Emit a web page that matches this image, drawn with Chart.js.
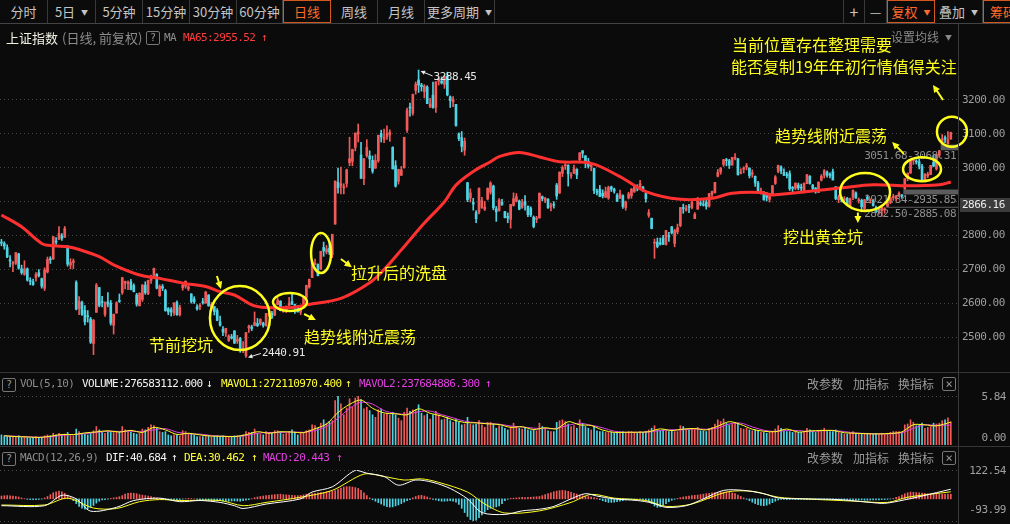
<!DOCTYPE html>
<html>
<head>
<meta charset="utf-8">
<title>上证指数 日线</title>
<script src="https://cdn.jsdelivr.net/npm/chart.js@4.4.1/dist/chart.umd.min.js"></script>
<style>
  html, body { margin: 0; padding: 0; background: #0b0b0b; }
  body { position: relative; width: 1010px; height: 524px; overflow: hidden;
         font-family: "Noto Sans CJK SC", "Noto Sans", sans-serif; color: #c9c9c9; }
  canvas { position: absolute; left: 0; }
  .a { position: absolute; white-space: nowrap; line-height: 14px; }
  .btn { position: absolute; top: 0; height: 23px; line-height: 23px; box-sizing: border-box;
         border-right: 1px solid #3a3a3a; text-align: center; font-size: 13px; color: #c4c4c4; }
  .btn.on { border: 1px solid #d2581f; color: #ff6a2a; line-height: 21px; }
  .btn.lb { border-left: 1px solid #3a3a3a; }
  .tri { font-size: 7px; margin-left: 6px; vertical-align: 2px; }
  .mono { font-family: "DejaVu Sans Mono", monospace; font-size: 11px; letter-spacing: -0.6px; }
  .q { position: absolute; width: 12px; height: 12px; border: 1px solid #777; border-radius: 2px;
       font: 10px/12px "DejaVu Sans Mono", monospace; color: #9a9a9a; text-align: center; }
  .h { position: absolute; left: 0; width: 1010px; height: 1px; background: #363636; }
  .dots { position: absolute; left: 0; width: 958px; height: 1px;
          background: repeating-linear-gradient(to right, #4c4c4c 0 1px, transparent 1px 4px); }
  .lab { position: absolute; right: 4px; line-height: 12px; font: 11px "DejaVu Sans Mono", monospace;
         letter-spacing: -0.5px; color: #a0a0a0; }
  .tool { position: absolute; font-size: 12px; line-height: 14px; color: #9a9a9a; }
</style>
</head>
<body>
<canvas id="price" width="1010" height="347" style="top:25px"></canvas>
<canvas id="vol" width="1010" height="49" style="top:396px"></canvas>
<canvas id="macd" width="1010" height="51" style="top:470px"></canvas>

<!-- toolbar -->
<div class="btn" style="left:0;width:48px">分时</div>
<div class="btn" style="left:48px;width:48px">5日<span class="tri">▼</span></div>
<div class="btn" style="left:96px;width:47px">5分钟</div>
<div class="btn" style="left:143px;width:47px">15分钟</div>
<div class="btn" style="left:190px;width:47px">30分钟</div>
<div class="btn" style="left:237px;width:46px">60分钟</div>
<div class="btn on" style="left:283px;width:48px">日线</div>
<div class="btn" style="left:331px;width:47px">周线</div>
<div class="btn" style="left:378px;width:47px">月线</div>
<div class="btn" style="left:425px;width:70px">更多周期<span class="tri">▼</span></div>
<div class="btn lb" style="left:843px;width:22px;font-size:16px">+</div>
<div class="btn" style="left:865px;width:22px">—</div>
<div class="btn on" style="left:887px;width:48px">复权<span class="tri">▼</span></div>
<div class="btn" style="left:935px;width:48px">叠加<span class="tri">▼</span></div>
<div class="btn on" style="left:983px;width:40px">筹码</div>
<div class="h" style="top:23px;background:#444"></div>

<!-- title row -->
<div class="a" style="left:6px;top:31px;font-size:13px;color:#f2f2e2">上证指数</div>
<div class="a" style="left:62px;top:31px;font-size:13px;color:#8c8c8c">(日线, 前复权)</div>
<div class="q" style="left:146px;top:31px">?</div>
<div class="a mono" style="left:164px;top:31px;color:#8c8c8c">MA</div>
<div class="a mono" style="left:183px;top:31px;color:#ff3c3c">MA65:2955.52</div>
<div class="a mono" style="left:261px;top:31px;color:#ff3c3c">↑</div>
<div class="a" style="left:891px;top:30px;font-size:12px;color:#8a8a8a">设置均线<span class="tri">▼</span></div>

<!-- panel frames -->
<div style="position:absolute;left:958px;top:24px;width:1px;height:500px;background:#3a3a3a"></div>
<div class="h" style="top:372px"></div>
<div class="h" style="top:446px"></div>
<div class="dots" style="top:396px"></div>
<div class="dots" style="top:470px"></div>
<div class="dots" style="top:521px"></div>

<!-- volume header -->
<div class="q" style="left:2px;top:378px">?</div>
<div class="a mono" style="left:20px;top:377px;color:#8c8c8c">VOL(5,10)</div>
<div class="a mono" style="left:82px;top:377px;color:#f2f2f2">VOLUME:276583112.000</div>
<div class="a mono" style="left:206px;top:377px;color:#f2f2f2">↓</div>
<div class="a mono" style="left:221px;top:377px;color:#ffff3a">MAVOL1:272110970.400</div>
<div class="a mono" style="left:345px;top:377px;color:#ffff3a">↑</div>
<div class="a mono" style="left:359px;top:377px;color:#e040e0">MAVOL2:237684886.300</div>
<div class="a mono" style="left:485px;top:377px;color:#e040e0">↑</div>
<div class="tool" style="left:807px;top:377px">改参数</div>
<div class="tool" style="left:853px;top:377px">加指标</div>
<div class="tool" style="left:898px;top:377px">换指标</div>
<div class="q" style="left:942px;top:377px;font-size:12px">×</div>
<div class="lab" style="top:390px">5.84</div>
<div class="lab" style="top:431px">0.00</div>

<!-- macd header -->
<div class="q" style="left:2px;top:452px">?</div>
<div class="a mono" style="left:20px;top:451px;color:#8c8c8c">MACD(12,26,9)</div>
<div class="a mono" style="left:106px;top:451px;color:#f2f2f2">DIF:40.684</div>
<div class="a mono" style="left:171px;top:451px;color:#f2f2f2">↑</div>
<div class="a mono" style="left:184px;top:451px;color:#ffff3a">DEA:30.462</div>
<div class="a mono" style="left:251px;top:451px;color:#ffff3a">↑</div>
<div class="a mono" style="left:263px;top:451px;color:#e040e0">MACD:20.443</div>
<div class="a mono" style="left:336px;top:451px;color:#e040e0">↑</div>
<div class="tool" style="left:807px;top:451px">改参数</div>
<div class="tool" style="left:853px;top:451px">加指标</div>
<div class="tool" style="left:898px;top:451px">换指标</div>
<div class="q" style="left:942px;top:451px;font-size:12px">×</div>
<div class="lab" style="top:464px">122.54</div>
<div class="lab" style="top:503px">-93.99</div>

<script>
// trading sessions shown on the chart, month by month
const tradeMonths = [
  ['2018-08', [28, 29, 30, 31]],
  ['2018-09', [3, 4, 5, 6, 7, 10, 11, 12, 13, 14, 17, 18, 19, 20, 21, 25, 26, 27, 28]],
  ['2018-10', [8, 9, 10, 11, 12, 15, 16, 17, 18, 19, 22, 23, 24, 25, 26, 29, 30, 31]],
  ['2018-11', [1, 2, 5, 6, 7, 8, 9, 12, 13, 14, 15, 16, 19, 20, 21, 22, 23, 26, 27, 28, 29, 30]],
  ['2018-12', [3, 4, 5, 6, 7, 10, 11, 12, 13, 14, 17, 18, 19, 20, 21, 24, 25, 26, 27, 28]],
  ['2019-01', [2, 3, 4, 7, 8, 9, 10, 11, 14, 15, 16, 17, 18, 21, 22, 23, 24, 25, 28, 29, 30, 31]],
  ['2019-02', [1, 11, 12, 13, 14, 15, 18, 19, 20, 21, 22, 25, 26, 27, 28]],
  ['2019-03', [1, 4, 5, 6, 7, 8, 11, 12, 13, 14, 15, 18, 19, 20, 21, 22, 25, 26, 27, 28, 29]],
  ['2019-04', [1, 2, 3, 4, 8, 9, 10, 11, 12, 15, 16, 17, 18, 19, 22, 23, 24, 25, 26, 29, 30]],
  ['2019-05', [6, 7, 8, 9, 10, 13, 14, 15, 16, 17, 20, 21, 22, 23, 24, 27, 28, 29, 30, 31]],
  ['2019-06', [3, 4, 5, 6, 10, 11, 12, 13, 14, 17, 18, 19, 20, 21, 24, 25, 26, 27, 28]],
  ['2019-07', [1, 2, 3, 4, 5, 8, 9, 10, 11, 12, 15, 16, 17, 18, 19, 22, 23, 24, 25, 26, 29, 30, 31]],
  ['2019-08', [1, 2, 5, 6, 7, 8, 9, 12, 13, 14, 15, 16, 19, 20, 21, 22, 23, 26, 27, 28, 29, 30]],
  ['2019-09', [2, 3, 4, 5, 6, 9, 10, 11, 12, 16, 17, 18, 19, 20, 23, 24, 25, 26, 27, 30]],
  ['2019-10', [8, 9, 10, 11, 14, 15, 16, 17, 18, 21, 22, 23, 24, 25, 28, 29, 30, 31]],
  ['2019-11', [1, 4, 5, 6, 7, 8, 11, 12, 13, 14, 15, 18, 19, 20, 21, 22, 25, 26, 27, 28, 29]],
  ['2019-12', [2, 3, 4, 5, 6, 9, 10, 11, 12, 13, 16, 17, 18, 19, 20, 23, 24, 25, 26, 27, 30, 31]],
  ['2020-01', [2, 3, 6, 7]],
];
// empty slots left at the right edge of the price panel
const blankSlots = 2;

// [open, high, low, close]
const candles = [
  [2780,2789,2770,2778],[2777,2782,2760,2769],[2765,2773,2735,2737],[2729,2741,2708,2725],
  [2716,2724,2694,2720],[2719,2750,2715,2750],[2746,2748,2701,2704],[2702,2713,2686,2691],[2686,2726,2683,2702],[2702,2705,2666,2669],[2668,2676,2655,2665],[2664,2672,2653,2656],[2676,2691,2666,2686],[2691,2700,2678,2682],[2673,2675,2645,2651],[2645,2705,2638,2699],[2693,2737,2690,2730],[2730,2738,2718,2729],[2731,2797,2730,2797],[2783,2794,2774,2781],[2789,2827,2788,2806],[2799,2806,2786,2792],[2795,2827,2795,2821],
  [2768,2771,2710,2716],[2713,2732,2702,2721],[2721,2731,2703,2725],[2662,2667,2581,2583],[2585,2620,2567,2606],[2603,2607,2565,2568],[2580,2594,2537,2546],[2562,2579,2545,2561],[2554,2559,2482,2486],[2482,2553,2449,2550],[2574,2659,2574,2654],[2647,2647,2590,2594],[2605,2621,2590,2603],[2568,2605,2562,2603],[2605,2632,2590,2598],[2601,2609,2536,2542],[2536,2569,2510,2568],[2572,2605,2571,2602],
  [2609,2628,2603,2606],[2632,2677,2627,2676],[2660,2666,2643,2665],[2659,2667,2641,2659],[2664,2671,2640,2641],[2653,2658,2634,2635],[2625,2630,2592,2598],[2593,2632,2593,2630],[2612,2656,2606,2654],[2654,2664,2627,2632],[2629,2669,2626,2668],[2668,2684,2659,2679],[2683,2704,2677,2703],[2686,2688,2643,2645],[2623,2655,2621,2651],[2650,2656,2638,2645],[2638,2642,2577,2579],[2585,2588,2567,2575],[2582,2588,2563,2575],[2572,2602,2565,2602],[2603,2608,2565,2567],[2567,2595,2563,2588],
  [2646,2659,2639,2654],[2651,2666,2645,2666],[2643,2654,2638,2649],[2628,2629,2601,2605],[2613,2620,2600,2605],[2590,2597,2580,2584],[2590,2600,2582,2594],[2604,2615,2598,2602],[2601,2635,2601,2634],[2625,2626,2592,2593],[2589,2603,2579,2597],[2591,2592,2566,2576],[2579,2585,2549,2550],[2546,2563,2533,2536],[2524,2532,2505,2516],[2513,2527,2503,2527],[2491,2508,2488,2504],[2502,2509,2495,2498],[2519,2520,2482,2483],[2489,2506,2482,2494],
  [2497,2500,2456,2465],[2462,2488,2455,2464],[2446,2515,2440.91,2514],[2528,2536,2515,2533],[2531,2536,2520,2526],[2535,2575,2534,2544],[2541,2556,2532,2535],[2540,2555,2536,2553],[2542,2545,2530,2535],[2535,2571,2533,2570],[2568,2576,2563,2570],[2572,2577,2555,2559],[2566,2599,2564,2596],[2597,2618,2596,2610],[2607,2608,2578,2579],[2576,2591,2574,2581],[2580,2593,2573,2591],[2595,2618,2592,2601],[2606,2631,2597,2597],[2595,2598,2571,2594],[2590,2594,2575,2575],[2574,2590,2567,2585],
  [2597,2619,2592,2618],[2617,2654,2610,2653],[2649,2672,2645,2671],[2676,2721,2676,2721],[2715,2731,2714,2719],[2715,2717,2681,2682],[2701,2754,2701,2754],[2765,2781,2739,2755],[2752,2771,2746,2761],[2763,2781,2744,2751],[2744,2804,2735,2804],[2834,2961,2834,2961],[2957,2999,2925,2941],[2946,3002,2923,2953],[2941,2953,2923,2941],
  [2954,2996,2943,2994],[3015,3090,3006,3027],[3019,3055,3006,3054],[3060,3103,3050,3102],[3099,3129,3076,3106],[3038,3075,2969,2969],[2968,3028,2950,3026],[3036,3083,3031,3060],[3035,3050,3000,3026],[3022,3035,2984,2990],[2999,3039,2998,3021],[3021,3096,3016,3096],[3101,3111,3076,3091],[3084,3114,3074,3090],[3092,3124,3084,3101],[3097,3112,3078,3104],[3060,3062,2996,2997],[3006,3021,2943,2946],[2960,2996,2952,2995],[2978,3004,2977,2994],[3000,3090,2999,3090],
  [3111,3176,3104,3170],[3177,3191,3152,3176],[3161,3217,3155,3216],[3228,3253,3217,3246],[3259,3288.45,3222,3244],[3244,3249,3226,3239],[3225,3245,3206,3241],[3238,3242,3189,3189],[3181,3205,3177,3188],[3214,3253,3176,3177],[3178,3254,3163,3253],[3255,3270,3244,3263],[3256,3268,3247,3250],[3246,3272,3234,3270],[3270,3282,3212,3215],[3209,3212,3178,3198],[3194,3210,3180,3201],[3187,3187,3123,3124],[3100,3103,3080,3086],[3089,3107,3047,3063],[3052,3088,3037,3078],
  [2956,2957,2900,2906],[2911,2938,2899,2926],[2898,2910,2875,2893],[2868,2874,2838,2850],[2869,2941,2864,2939],[2883,2913,2880,2903],[2878,2901,2874,2884],[2908,2941,2905,2939],[2928,2959,2922,2955],[2946,2949,2876,2882],[2879,2886,2842,2870],[2874,2909,2872,2905],[2898,2907,2889,2892],[2871,2872,2852,2853],[2857,2867,2838,2852],[2848,2892,2822,2892],[2889,2926,2887,2909],[2901,2924,2899,2915],[2902,2905,2876,2878],[2883,2907,2880,2898],
  [2901,2918,2875,2890],[2887,2887,2856,2862],[2880,2885,2856,2861],[2854,2858,2823,2827],[2848,2857,2838,2852],[2852,2926,2852,2925],[2915,2917,2902,2909],[2904,2913,2897,2910],[2907,2909,2880,2882],[2885,2896,2873,2887],[2891,2900,2881,2890],[2949,2954,2907,2917],[2926,2988,2924,2987],[2984,3006,2974,3001],[3006,3012,2995,3008],[3007,3009,2946,2982],[2976,2986,2969,2976],[2984,3008,2983,2997],[2996,2997,2968,2979],
  [3024,3045,3015,3044],[3050,3051,3030,3043],[3035,3036,3000,3015],[3019,3028,2999,3005],[3003,3012,2991,3011],[2998,2999,2924,2933],[2931,2937,2920,2928],[2937,2948,2915,2915],[2925,2935,2911,2917],[2913,2943,2913,2930],[2911,2946,2907,2942],[2944,2946,2930,2937],[2937,2940,2925,2931],[2919,2924,2901,2901],[2910,2934,2909,2924],[2918,2920,2880,2886],[2883,2902,2875,2899],[2911,2928,2908,2923],[2918,2939,2910,2937],[2930,2949,2927,2944],[2944,2950,2932,2941],[2943,2963,2939,2953],[2943,2945,2931,2932],
  [2924,2925,2899,2909],[2860,2877,2854,2868],[2851,2852,2820,2821],[2778,2790,2733,2778],[2781,2793,2764,2768],[2779,2793,2772,2775],[2793,2801,2774,2774],[2774,2815,2772,2815],[2798,2810,2783,2797],[2826,2827,2805,2808],[2777,2819,2767,2815],[2811,2834,2805,2823],[2830,2883,2826,2883],[2883,2893,2866,2880],[2875,2889,2872,2880],[2884,2892,2868,2883],[2883,2904,2879,2898],[2850,2868,2850,2863],[2878,2913,2878,2902],[2897,2903,2888,2893],[2891,2907,2887,2890],[2899,2905,2878,2886],
  [2887,2925,2884,2924],[2922,2931,2914,2930],[2927,2957,2925,2957],[2975,2995,2973,2986],[2988,3001,2981,2999],[3010,3025,3004,3024],[3022,3028,3006,3021],[3021,3025,2998,3008],[3008,3031,3008,3031],[3028,3042,3023,3030],[3027,3027,2979,2979],[2984,2997,2982,2985],[2996,3003,2985,2999],[3002,3013,2994,3006],[2999,3000,2970,2977],[2981,2994,2972,2985],[2975,2976,2945,2955],[2955,2960,2928,2929],[2929,2940,2922,2932],[2928,2930,2905,2905],
  [2919,2927,2902,2913],[2907,2925,2899,2924],[2924,2948,2920,2947],[2954,2977,2951,2973],[2989,3008,2985,3007],[3003,3006,2983,2991],[2987,2997,2977,2978],[2980,2987,2970,2977],[2983,2991,2933,2938],[2940,2945,2927,2939],[2940,2955,2935,2955],[2949,2955,2935,2941],[2942,2952,2931,2940],[2931,2956,2926,2954],[2953,2980,2953,2980],[2975,2977,2952,2954],[2949,2951,2932,2939],[2940,2942,2925,2929],
  [2927,2958,2927,2958],[2964,2980,2961,2975],[2978,2995,2970,2991],[2987,2991,2972,2978],[2980,2985,2970,2978],[2989,2996,2964,2964],[2944,2945,2906,2909],[2906,2920,2897,2914],[2913,2914,2899,2905],[2904,2915,2901,2909],[2910,2913,2891,2891],[2887,2911,2884,2909],[2913,2935,2906,2933],[2926,2929,2910,2911],[2903,2911,2896,2903],[2904,2908,2870,2885],[2880,2907,2873,2906],[2913,2920,2903,2907],[2903,2909,2896,2903],[2903,2906,2887,2889],[2883,2887,2867,2871],
  [2870,2879,2863,2875],[2874,2884,2857,2884],[2876,2882.5,2866,2878],[2886,2900,2885.08,2899],[2899,2912,2894,2912],[2913,2922,2904,2914],[2909,2917,2902,2917],[2918,2929,2915,2925],[2920,2921.34,2910,2916],[2938,2968,2935.85,2968],[2968,2985,2962,2984],[2985,3024,2983,3022],[3021,3028,3010,3022],[3018,3024,3011,3017],[3018,3026,2997,3005],[3004,3010,2962,2963],[2964,2982,2958,2982],[2976,2987,2971,2981],[2980,3007,2980,3007],[3016,3037,3003,3005],[2997,3040,2993,3040],[3037,3051.68,3030,3050],
  [3069,3098,3068.31,3085],[3089,3094,3074,3084],[3071,3107,3069,3083],[3085,3105,3084,3104],
];

// daily volume, 1e8 lots
const volumes = [
  1.2,1.1,1.0,1.0,0.9,1.0,1.1,0.9,0.9,0.9,0.8,0.9,1.0,0.9,0.9,1.1,1.2,1.1,1.4,1.2,1.4,1.2,1.3,1.5,1.1,1.1,
  1.9,1.6,1.3,1.3,1.2,1.4,1.7,2.2,1.8,1.5,1.4,1.6,1.5,1.5,1.5,
  1.6,2.2,1.8,1.6,1.5,1.4,1.3,1.4,1.9,1.8,2.1,2.4,2.3,2.0,1.6,1.5,1.6,1.2,1.1,1.2,1.2,1.1,
  1.7,1.6,1.4,1.4,1.2,1.0,1.0,1.0,1.2,1.1,1.0,1.0,1.1,1.0,1.1,0.9,1.0,0.9,1.1,1.1,
  1.1,1.2,1.6,1.5,1.5,1.9,1.4,1.3,1.2,1.6,1.5,1.4,1.7,1.7,1.6,1.3,1.4,1.6,1.8,1.5,1.2,1.4,
  1.5,1.7,1.8,2.4,2.3,2.0,2.6,3.0,2.6,2.8,2.9,5.3,5.8,4.9,3.6,
  4.4,5.5,4.5,5.6,5.8,5.4,4.3,4.5,4.1,3.6,3.3,4.2,4.3,3.7,3.8,3.6,3.9,3.6,3.2,2.9,3.9,
  4.4,4.0,4.2,4.2,4.8,3.8,3.5,3.7,3.1,3.6,4.0,3.6,3.0,3.1,3.3,2.9,2.7,3.1,2.7,2.4,2.5,
  3.3,2.5,2.4,2.5,2.9,2.4,2.1,2.7,2.7,2.5,2.0,2.3,2.2,2.0,1.8,2.2,2.6,2.2,2.0,1.9,
  2.0,1.8,1.7,1.8,1.7,2.6,2.2,2.0,1.7,1.6,1.6,2.7,2.9,3.0,2.8,2.5,2.2,2.3,2.0,
  3.0,2.6,2.2,2.0,1.8,2.2,1.7,1.6,1.6,1.5,1.5,1.5,1.4,1.5,1.6,1.6,1.5,1.6,1.6,1.5,1.4,1.6,1.5,
  1.6,1.8,2.0,2.3,1.8,1.7,1.8,1.7,1.6,1.8,1.6,1.6,2.3,2.2,1.9,1.8,2.0,1.9,2.1,1.7,1.7,1.6,
  2.0,2.1,2.5,3.0,2.8,3.1,2.6,2.4,2.5,2.7,2.6,2.0,1.9,2.0,1.8,1.7,1.8,1.7,1.5,1.5,
  1.4,1.5,1.6,1.9,2.3,2.0,1.7,1.6,1.6,1.5,1.6,1.5,1.5,1.5,2.0,1.8,1.6,1.5,
  1.7,1.8,2.0,1.7,1.6,1.6,1.8,1.5,1.4,1.3,1.3,1.4,1.6,1.4,1.3,1.4,1.3,1.4,1.3,1.3,1.4,
  1.3,1.4,1.3,1.4,1.5,1.6,1.6,1.6,1.5,2.4,2.5,3.0,2.7,2.3,2.4,2.6,2.0,2.1,2.2,2.6,2.5,2.6,
  2.9,3.0,3.25,2.77,
];

// volume averages, read every 4th session from the second one (last value on the last session)
const mavol1 = [1.1,1.0,0.96,0.9,1.04,1.26,1.24,1.44,1.56,1.7,1.54,1.74,1.5,2.1,1.8,1.26,1.4,1.2,1.06,1.04,1.0,1.22,1.58,1.4,1.58,1.54,1.48,1.94,2.5,3.88,4.84,5.36,4.38,3.82,3.72,3.6,4.32,3.78,3.46,3.0,2.68,2.64,2.52,2.44,2.1,2.18,1.84,2.06,1.92,2.78,2.4,2.32,1.78,1.5,1.52,1.52,1.58,1.92,1.72,1.9,1.96,1.8,2.24,2.78,2.44,1.88,1.64,1.58,1.9,1.54,1.68,1.72,1.74,1.46,1.4,1.34,1.32,1.38,1.56,2.42,2.4,2.28,2.72];
const mavol2 = [1.1,1.05,0.98,0.93,0.97,1.15,1.25,1.34,1.5,1.63,1.62,1.64,1.62,1.8,1.95,1.53,1.33,1.3,1.13,1.05,1.02,1.11,1.4,1.49,1.49,1.56,1.51,1.71,2.22,3.19,4.36,5.1,4.87,4.1,3.77,3.66,3.96,4.05,3.62,3.23,2.84,2.66,2.58,2.48,2.27,2.14,2.01,1.95,1.99,2.35,2.59,2.36,2.05,1.64,1.51,1.52,1.55,1.72,1.82,1.81,1.93,1.88,2.02,2.51,2.61,2.16,1.76,1.61,1.74,1.72,1.61,1.7,1.73,1.6,1.43,1.37,1.33,1.35,1.47,1.99,2.41,2.34,2.38];

// [session index, value]
const ma65Points = [[0,2861],[7,2826],[14,2777],[18,2770],[23,2767],[27,2759],[34,2738],[39,2714],[48,2684],[55,2674],[63,2660],[71,2650],[76,2635],[81,2625],[87,2596],[92,2588],[101,2588],[106,2596],[118,2615],[128,2661],[133,2700],[139,2758],[147,2837],[154,2900],[158,2949],[164,2989],[170,3018],[173,3033],[180,3045],[187,3032],[194,3018],[205,3013],[215,2974],[224,2930],[236,2907],[247,2910],[254,2925],[264,2927],[268,2920],[292,2941],[303,2950],[315,2947],[326,2950],[330,2958]];
const difPoints = [[0,-29],[15,-29],[21,15],[26,0],[31,-52],[40,-36],[46,-7],[55,3],[62,-12],[69,-7],[76,-15],[81,-29],[84,-41],[92,-22],[104,0],[108,29],[115,51],[123,121],[127,109],[133,95],[138,58],[144,80],[150,70],[156,44],[162,0],[167,-58],[175,-66],[181,-51],[187,-44],[192,-32],[198,0],[203,22],[207,12],[213,0],[221,-7],[226,-17],[231,-36],[238,-29],[244,0],[251,36],[258,36],[265,22],[270,4],[279,0],[291,-3],[302,-15],[307,-19],[314,-4],[320,12],[330,41]];
const deaPoints = [[0,-26],[15,-26],[23,3],[32,-39],[40,-41],[48,-12],[55,-3],[62,-7],[76,-7],[84,-29],[92,-15],[104,7],[115,36],[126,105],[133,95],[140,80],[146,85],[152,70],[162,29],[168,-22],[175,-60],[187,-51],[198,-15],[205,19],[213,3],[224,-7],[231,-32],[240,-22],[252,29],[261,32],[270,7],[279,0],[297,-10],[308,-15],[315,7],[330,30]];

// MACD histogram per session
const macdBars = [
  12,13,14,13,12,10,8, 4,1, -2,-3,-3,-3,-2,-1, 4,10,18,26,30,33,30,24,16,6,
  -8,-20,-32,-40,-44,-42,-36,-28,-18,-10, -4,-3,-1,2,4,6,9,
  14,20,24,25,24,22,18,16,14,12,10,7,4, 2,-1,-3,-3,-2,-3,-4,-3,-1,1,2,1,0,-1,-3,
  -4,-5,-6,-7,-8,-8,-8,-9,-10,-10,-9,-9,-9,-10,-8,-6,-3,
  1,5,8,10,12,14,15,16,18,19,20,18,17,16,15,14,14,
  15,17,20,21,22,24,26,27,28,30,31,33,35, 40,46,50,52,52,50,48,44,36,26,14,4,
  -4,-10,-16,-22,-28,-33,-35,-34,-30,-26,-20,-14,-8,-3, 4,10,14,15,12,8,3,
  -2,-5,-8,-10,-10,-9,-8,-10,-14, -24,-40,-58,-75,-88,-94,-90,-80,-68,-56,-46,-40,
  -36,-34,-30,-20,-8,-2,2,3, 4,5,6,5,6,7,8,9,10,
  14,18,22,26,30,33,35,36,35,32,28,24,20,16,13,11, 10,8,5,2,
  -3,-8,-12,-15,-15,-14,-12,-10,-8,-5,-3, -2,-1,0,-1,-3,-6,-12,
  -20,-30,-36,-34,-28,-20,-12,-6,-2,
  2,5,8,10,12,14,15,16,18,20,22,24,26,27,27,28,29,29,28,26,22,16,10,4,
  -2,-8,-14,-20,-25,-28,-29,-27,-22,-16,-10,-5,
  -2,-2,-3,-3,-2,-3,-3,-2,-2,-3,-2,-2,-3,-2,-3,-3,-2,-2,-3,-3,-2,
  -3,-4,-5,-5,-6,-6,-5,-5,-6,-6,-5,-5,-4,-4,-3,-3,-2,-1,
  2,6,10,16,22,26,29,28,27,26,25,24,22,20,20,21,21,20,20,20,20,
];

const priceTicks = [2500, 2600, 2700, 2800, 2900, 3000, 3100, 3200];

// unfilled gaps: [first session after the gap, lower edge, upper edge]
const gaps = [
  ['2019-12-05', 2882.50, 2885.08],
  ['2019-12-13', 2921.34, 2935.85],
  ['2020-01-02', 3051.68, 3068.31],
];

// hand-drawn notes on the price panel, anchored at [session index, price]
const rings = [
  { at: [82.9, 2557], rx: 30, ry: 32 },
  { at: [100.3, 2604], rx: 17, ry: 9 },
  { at: [111.1, 2749], rx: 10, ry: 20 },
  { at: [300.2, 2929], rx: 25, ry: 19 },
  { at: [320.0, 2996], rx: 19, ry: 12 },
  { at: [330.4, 3106], rx: 15, ry: 15 },
];
const pointers = [
  { from: [74.9, 2681], to: [76.3, 2643] },
  { from: [105.2, 2569], to: [109.3, 2551] },
  { from: [118.0, 2731], to: [121.8, 2707] },
  { from: [297.7, 2868], to: [297.7, 2837] },
  { from: [313.7, 3041], to: [309.6, 3076] },
  { from: [327.3, 3200], to: [323.8, 3244] },
];
const notes = [
  { at: [253.9, 3362], text: '当前位置存在整理需要' },
  { at: [253.6, 3297], text: '能否复制19年年初行情值得关注' },
  { at: [268.9, 3094], text: '趋势线附近震荡' },
  { at: [271.7, 2796], text: '挖出黄金坑' },
  { at: [51.3, 2478], text: '节前挖坑' },
  { at: [105.2, 2501], text: '趋势线附近震荡' },
  { at: [121.5, 2690], text: '拉升后的洗盘' },
];

const UP = '#f25a5a', DOWN = '#50d4e4', YELLOW = '#ffff1e', MAG = '#e040e0';
const MONO = "'DejaVu Sans Mono', monospace";

const dates = [];
tradeMonths.forEach(([m, days]) => days.forEach(d => dates.push(`${m}-${String(d).padStart(2, '0')}`)));
const lastIdx = dates.length - 1;
const slots = dates.concat(Array.from({ length: blankSlots }, (_, i) => `next-${i + 1}`));
const rising = candles.map(c => c[3] >= c[0]);
const candleColors = rising.map(r => (r ? UP : DOWN));

const toPoints = pairs => pairs.map(([i, v]) => ({ x: dates[i], y: v }));
const everyFourth = values => values.map((v, k) => ({ x: dates[k === values.length - 1 ? lastIdx : 1 + 4 * k], y: v }));

const baseOptions = {
  animation: false,
  responsive: false,
  events: [],
  plugins: { legend: { display: false }, tooltip: { enabled: false } },
};

function arrow(ctx, x1, y1, x2, y2, head) {
  const ang = Math.atan2(y2 - y1, x2 - x1);
  ctx.beginPath();
  ctx.moveTo(x1, y1);
  ctx.lineTo(x2 - Math.cos(ang) * head * 0.6, y2 - Math.sin(ang) * head * 0.6);
  ctx.stroke();
  ctx.beginPath();
  ctx.moveTo(x2, y2);
  ctx.lineTo(x2 - head * Math.cos(ang - 0.45), y2 - head * Math.sin(ang - 0.45));
  ctx.lineTo(x2 - head * Math.cos(ang + 0.45), y2 - head * Math.sin(ang + 0.45));
  ctx.closePath();
  ctx.fill();
}

const priceNotes = {
  id: 'priceNotes',
  beforeDraw(chart) {
    chart.ctx.letterSpacing = '-0.5px';
  },
  afterDatasetsDraw(chart) {
    const { ctx, chartArea, scales: { x, y } } = chart;
    const px = (i, p) => [x.getPixelForValue(i), y.getPixelForValue(p)];
    const step = x.getPixelForValue(1) - x.getPixelForValue(0);
    ctx.save();

    // gap bands and their ranges
    ctx.font = `11px ${MONO}`;
    ctx.textBaseline = 'middle';
    ctx.textAlign = 'right';
    gaps.forEach(([d, lo, hi]) => {
      const x0 = x.getPixelForValue(dates.indexOf(d)) - step / 2;
      const yHi = y.getPixelForValue(hi), yLo = y.getPixelForValue(lo);
      ctx.fillStyle = '#5c5c5c';
      ctx.fillRect(x0, yHi, chartArea.right - x0, Math.max(1, yLo - yHi));
      ctx.fillStyle = '#8e8e8e';
      ctx.fillText(`${lo.toFixed(2)}-${hi.toFixed(2)}`, chartArea.right - 2, yLo + 6);
    });

    // highest high / lowest low markers
    const highs = candles.map(c => c[1]), lows = candles.map(c => c[2]);
    const hi = highs.indexOf(Math.max(...highs)), lo = lows.indexOf(Math.min(...lows));
    ctx.strokeStyle = ctx.fillStyle = '#e8e8e8';
    ctx.lineWidth = 1;
    ctx.textAlign = 'left';
    const [hx, hy] = px(hi, highs[hi]);
    arrow(ctx, hx + 14, hy + 6, hx + 2, hy + 1, 5);
    ctx.fillText(highs[hi].toFixed(2), hx + 15, hy + 7);
    const [lx, ly] = px(lo, lows[lo]);
    arrow(ctx, lx + 15, ly - 4, lx + 2, ly, 5);
    ctx.fillText(lows[lo].toFixed(2), lx + 16, ly - 4);

    // yellow rings, arrows and captions
    ctx.letterSpacing = '0px';
    ctx.strokeStyle = ctx.fillStyle = YELLOW;
    ctx.lineWidth = 2.5;
    rings.forEach(r => {
      const [cx, cy] = px(...r.at);
      ctx.beginPath();
      ctx.ellipse(cx, cy, r.rx, r.ry, 0, 0, Math.PI * 2);
      ctx.stroke();
    });
    ctx.lineWidth = 2;
    pointers.forEach(p => {
      const [x1, y1] = px(...p.from), [x2, y2] = px(...p.to);
      arrow(ctx, x1, y1, x2, y2, 8);
    });
    ctx.font = "16px 'Noto Sans CJK SC', sans-serif";
    notes.forEach(n => {
      const [tx, ty] = px(...n.at);
      ctx.fillText(n.text, tx, ty);
    });
    ctx.restore();
  },
  afterDraw(chart) {
    const { ctx, chartArea, scales: { y } } = chart;
    const yy = Math.round(y.getPixelForValue(2866.16)) - 8;
    ctx.save();
    ctx.fillStyle = '#3b3b3b';
    ctx.fillRect(chartArea.right + 2, yy - 7, 52, 14);
    ctx.fillStyle = '#ececec';
    ctx.font = `11px ${MONO}`;
    ctx.textBaseline = 'middle';
    ctx.fillText('2866.16', chartArea.right + 4, yy);
    ctx.restore();
  },
};

new Chart(document.getElementById('price'), {
  type: 'bar',
  data: {
    labels: slots,
    datasets: [
      {
        type: 'line',
        data: toPoints(ma65Points),
        borderColor: '#ff3030',
        borderWidth: 3,
        pointRadius: 0,
        tension: 0.35,
        order: 0,
      },
      {
        data: candles.map(c => [c[0], c[3]]),
        backgroundColor: candleColors,
        barThickness: 2,
        minBarLength: 1,
        grouped: false,
        order: 1,
      },
      {
        data: candles.map(c => [c[2], c[1]]),
        backgroundColor: candleColors,
        barThickness: 1,
        grouped: false,
        order: 2,
      },
    ],
  },
  options: {
    ...baseOptions,
    layout: { padding: { top: 20 } },
    scales: {
      x: { display: false, offset: true },
      y: {
        position: 'right',
        min: 2398,
        max: 3362,
        afterFit: s => { s.width = 52; s.paddingTop = 0; s.paddingBottom = 0; },
        afterBuildTicks: s => { s.ticks = priceTicks.map(value => ({ value })); },
        grid: { color: '#474747', drawTicks: false },
        border: { display: false, dash: [1, 3] },
        ticks: {
          color: '#9e9e9e',
          padding: 4,
          autoSkip: false,
          font: { family: 'DejaVu Sans Mono', size: 11 },
          callback: v => (v === 2900 ? '' : v.toFixed(2)),
        },
      },
    },
  },
  plugins: [priceNotes],
});

new Chart(document.getElementById('vol'), {
  type: 'bar',
  data: {
    labels: slots,
    datasets: [
      { type: 'line', data: everyFourth(mavol1), borderColor: YELLOW, borderWidth: 1, pointRadius: 0, tension: 0.3, order: 0 },
      { type: 'line', data: everyFourth(mavol2), borderColor: MAG, borderWidth: 1, pointRadius: 0, tension: 0.3, order: 0 },
      { data: volumes, backgroundColor: candleColors, barThickness: 1, order: 1 },
    ],
  },
  options: {
    ...baseOptions,
    layout: { padding: { right: 52 } },
    scales: {
      x: { display: false, offset: true },
      y: { display: false, min: 0, max: 5.84 },
    },
  },
});

new Chart(document.getElementById('macd'), {
  type: 'bar',
  data: {
    labels: slots,
    datasets: [
      { type: 'line', data: toPoints(difPoints), borderColor: '#ffffff', borderWidth: 1, pointRadius: 0, tension: 0.3, order: 0 },
      { type: 'line', data: toPoints(deaPoints), borderColor: YELLOW, borderWidth: 1, pointRadius: 0, tension: 0.3, order: 0 },
      { data: macdBars, backgroundColor: macdBars.map(v => (v >= 0 ? UP : DOWN)), barThickness: 1, order: 1 },
    ],
  },
  options: {
    ...baseOptions,
    layout: { padding: { right: 52 } },
    scales: {
      x: { display: false, offset: true },
      y: { display: false, min: -93.99, max: 122.54 },
    },
  },
});
</script>
</body>
</html>
